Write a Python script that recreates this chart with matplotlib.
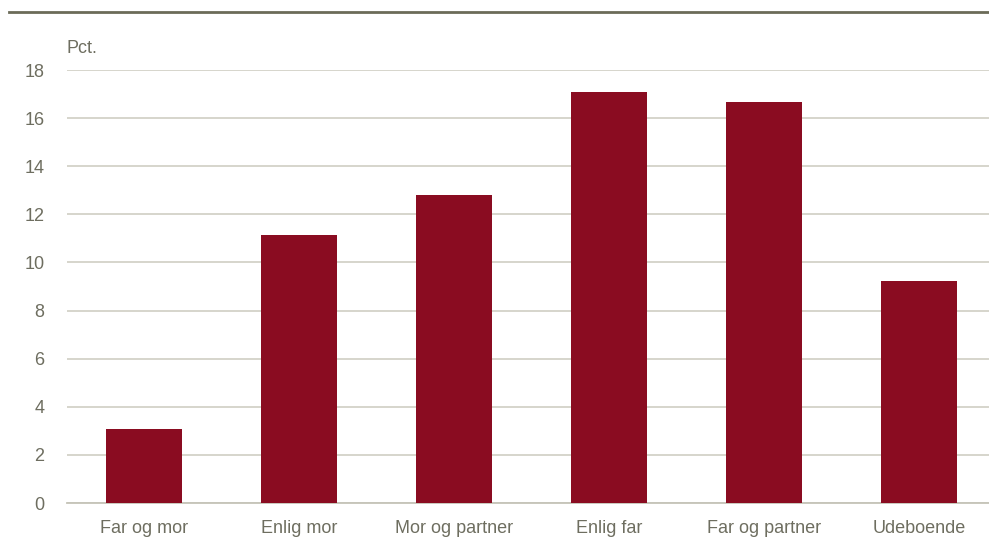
import matplotlib.pyplot as plt
from matplotlib.lines import Line2D

categories = ['Far og mor', 'Enlig mor', 'Mor og partner', 'Enlig far', 'Far og partner', 'Udeboende']
values = [3.08, 11.14, 12.80, 17.08, 16.67, 9.23]
yticks = [0, 2, 4, 6, 8, 10, 12, 14, 16, 18]

bar_color = '#8a0c21'
text_color = '#6e6e60'
grid_color = '#d3d2c8'

plt.rcParams['font.family'] = ['Liberation Sans Narrow', 'Liberation Sans', 'DejaVu Sans']

fig = plt.figure(figsize=(9.89, 5.45), dpi=100)
ax = fig.add_axes([66.5 / 989, 42 / 545, 930 / 989, 433 / 545])

x = range(len(categories))
ax.bar(x, values, width=0.49, color=bar_color, zorder=3)

ax.set_xlim(-0.5, 5.5)
ax.set_ylim(0, 18)
ax.set_yticks(yticks)
ax.set_xticks(list(x))
ax.set_xticklabels(categories)
ax.yaxis.grid(True, color=grid_color, lw=1.3, zorder=0)
ax.tick_params(length=0, labelsize=13, colors=text_color)
ax.tick_params(axis='y', pad=16)
ax.tick_params(axis='x', pad=12)
for s in ax.spines.values():
    s.set_visible(False)
ax.spines['bottom'].set_visible(True)
ax.spines['bottom'].set_color('#c5c4b8')
ax.spines['bottom'].set_linewidth(1.3)

ax.text(0, 1.03, 'Pct.', transform=ax.transAxes, fontsize=13, color=text_color,
        ha='left', va='bottom')

# top rule
fig.add_artist(Line2D([9 / 989, 1], [1 - 12 / 545] * 2, color='#6b6b58', lw=2))

fig.savefig('out.png', dpi=100)
